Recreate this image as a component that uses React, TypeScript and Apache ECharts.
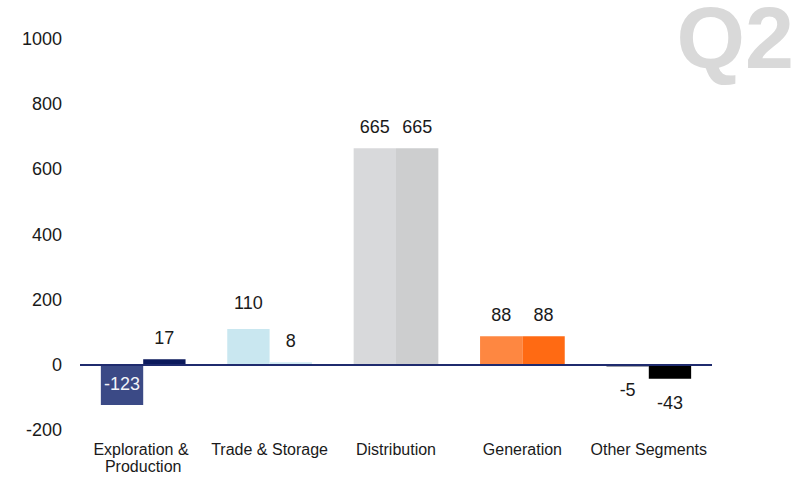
import React, { useEffect, useRef } from "react";
import * as echarts from "echarts";

// Segment results, two bars per segment
const categories = [
  "Exploration & Production",
  "Trade & Storage",
  "Distribution",
  "Generation",
  "Other Segments",
];
const firstValues = [-123, 110, 665, 88, -5];
const secondValues = [17, 8, 665, 88, -43];
const yTicks = { min: -200, max: 1000, step: 200 };
const cornerTitle = "Q2";

// Segment palettes (first bar, second bar)
const firstColors = ["#3b4a86", "#c9e7f0", "#d8d9db", "#fe8741", "#3a3f55"];
const secondColors = ["#0c1a5c", "#cfeaf3", "#cdcecf", "#ff6a13", "#000000"];

const FONT = "'Liberation Sans', Arial, sans-serif";
const TEXT = "#1a1a1a";

function buildItems(
  values: number[],
  colors: string[],
  insideIndex: number[],
  raisedIndex: number[]
) {
  return values.map((v, i) => {
    const inside = insideIndex.includes(i);
    const raised = raisedIndex.includes(i);
    return {
      value: v,
      itemStyle: { color: colors[i] },
      label: inside
        ? { position: "insideTop", distance: 10, color: "#f2f3f8" }
        : { position: "outside", distance: v >= 0 ? (raised ? 17 : 12) : 15 },
    };
  });
}

export default function App() {
  const ref = useRef<HTMLDivElement>(null);

  useEffect(() => {
    if (!ref.current) return;
    const chart = echarts.init(ref.current, undefined, { renderer: "svg" });
    const labelBase = {
      show: true,
      fontFamily: FONT,
      fontSize: 18,
      color: TEXT,
    };
    chart.setOption({
      animation: false,
      backgroundColor: "#ffffff",
      textStyle: { fontFamily: FONT },
      grid: {
        left: 80,
        right: 94,
        top: 39,
        bottom: 47,
        containLabel: false,
        outerBoundsMode: "none",
      },
      xAxis: {
        type: "category",
        data: categories,
        axisLine: { show: false, onZero: false },
        axisTick: { show: false },
        splitLine: { show: false },
        axisLabel: {
          interval: 0,
          margin: 11,
          fontFamily: FONT,
          fontSize: 16,
          lineHeight: 17,
          color: TEXT,
          width: 124,
          overflow: "break",
        },
      },
      yAxis: {
        type: "value",
        min: yTicks.min,
        max: yTicks.max,
        interval: yTicks.step,
        axisLine: { show: false },
        axisTick: { show: false },
        splitLine: { show: false },
        axisLabel: {
          margin: 18,
          fontFamily: FONT,
          fontSize: 18,
          color: TEXT,
          formatter: (v: number) => String(v),
        },
      },
      series: [
        {
          type: "bar",
          data: buildItems(firstValues, firstColors, [0], [1]),
          barGap: "0%",
          barCategoryGap: "33%",
          label: labelBase,
          markLine: {
            silent: true,
            symbol: ["none", "none"],
            label: { show: false },
            lineStyle: { color: "#1f2b6e", width: 2, type: "solid" },
            data: [{ yAxis: 0 }],
            z: 10,
          },
        },
        {
          type: "bar",
          data: buildItems(secondValues, secondColors, [], []),
          barGap: "0%",
          barCategoryGap: "33%",
          label: labelBase,
        },
      ],
      graphic: [
        {
          type: "text",
          right: 12,
          top: -7,
          style: {
            text: cornerTitle,
            fontFamily: FONT,
            fontWeight: "bold",
            fontSize: 88,
            fill: "#d9d9d9",
          },
        },
      ],
    });
    return () => chart.dispose();
  }, []);

  return (
    <div
      ref={ref}
      style={{ position: "absolute", left: 0, top: 0, width: 806, height: 477 }}
    />
  );
}
